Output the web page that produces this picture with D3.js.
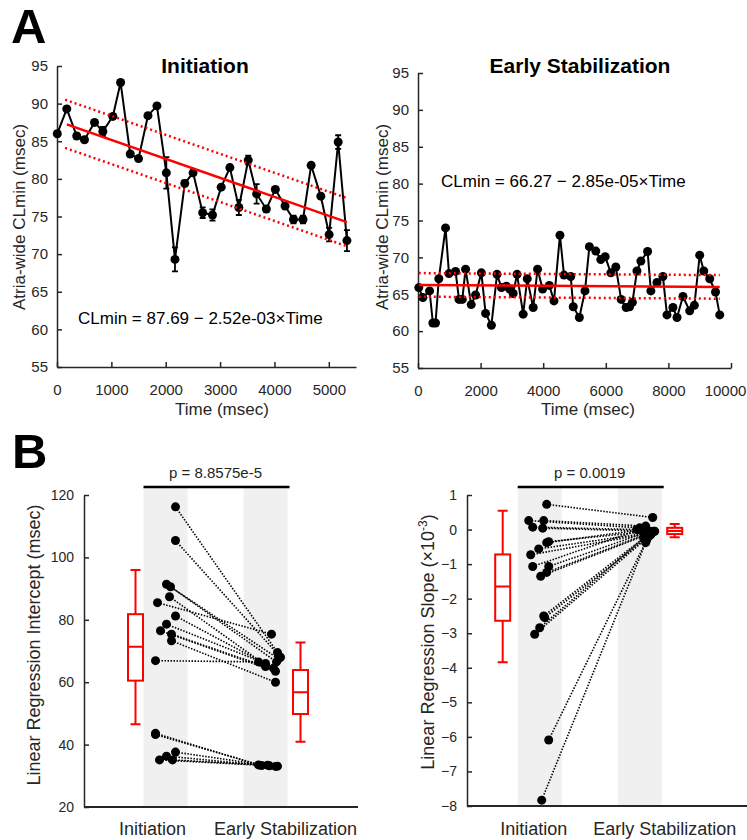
<!DOCTYPE html>
<html>
<head>
<meta charset="utf-8">
<script src="https://cdn.jsdelivr.net/npm/d3@7"></script>
<style>
body { margin: 0; background: #fff; }
text { font-family: "Liberation Sans", Arial, sans-serif; fill: #262626; }
</style>
</head>
<body>
<div id="chart"></div>
<script>
// panel A, initiation
var timeInit = [5, 180, 363, 505, 690, 843, 1027, 1170, 1347, 1500, 1673, 1838, 2011, 2170, 2350, 2503, 2680,
  2860, 3020, 3180, 3345, 3518, 3672, 3850, 4016, 4195, 4350, 4525, 4675, 4853, 5006, 5172, 5333];
var clInit = [86.0, 89.3, 85.7, 85.2, 87.5, 86.3, 88.3, 92.8, 83.3, 82.7, 88.4, 89.7, 80.8, 69.3, 79.4, 80.8, 75.5,
  75.2, 78.9, 81.5, 76.2, 82.5, 78.0, 76.0, 78.6, 76.4, 74.6, 74.6, 81.8, 77.7, 72.6, 84.9, 71.8];
var errInit = [0.3, 0.3, 0.3, 0.3, 0.3, 0.6, 0.3, 0.3, 0.3, 0.3, 0.3, 0.3, 2.1, 1.6, 0.4, 0.3, 0.7,
  0.75, 0.3, 0.3, 1.0, 0.6, 1.3, 0.4, 0.3, 0.4, 0.5, 0.5, 0.3, 0.3, 0.9, 0.9, 1.4];
var fitInit = [87.69, -2.52e-3];
var fitRangeInit = [180, 5333];
var bandRangeInit = [150, 5333];
var bandInit = 3.2;

// panel A, early stabilization
var timeStab = [25, 155, 370, 475, 560, 665, 880, 990, 1200, 1310, 1415, 1520, 1700, 1840, 2025, 2160, 2345,
  2525, 2665, 2825, 2930, 3040, 3165, 3360, 3490, 3680, 3820, 3980, 4195, 4345, 4535, 4665, 4880, 4960,
  5155, 5335, 5475, 5680, 5840, 5980, 6160, 6320, 6490, 6650, 6760, 6850, 6995, 7120, 7335, 7440, 7635,
  7825, 7955, 8145, 8275, 8465, 8680, 8830, 9000, 9130, 9320, 9505, 9640];
var clStab = [65.9, 64.55, 65.45, 61.1, 61.1, 67.1, 74.0, 67.8, 68.1, 64.3, 64.3, 68.4, 63.6, 64.9, 67.9, 62.4, 60.8,
  67.7, 65.9, 66.1, 65.7, 65.1, 67.7, 62.3, 67.1, 63.2, 68.4, 65.7, 66.2, 64.1, 73.0, 67.6, 67.4, 63.3,
  61.85, 65.45, 71.45, 70.85, 69.7, 70.1, 67.9, 68.7, 64.3, 63.2, 63.3, 63.9, 68.15, 69.5, 70.8, 65.45, 66.6,
  67.4, 62.2, 63.2, 61.85, 64.7, 62.75, 63.5, 70.3, 68.15, 67.1, 65.3, 62.2];
var fitStab = [66.27, -2.85e-5];
var fitRangeStab = [25, 9640];
var bandStab = 1.6;

var ticksTimeInit = [0, 1000, 2000, 3000, 4000, 5000];
var ticksTimeStab = [0, 2000, 4000, 6000, 8000, 10000];
var ticksCL = [55, 60, 65, 70, 75, 80, 85, 90, 95];

// panel B, intercepts (initiation -> early stabilization)
var icptInit = [116.2, 105.4, 91.4, 90.6, 87.4, 85.5, 81.2, 78.6, 76.5, 75.4, 73.3, 66.9, 43.6, 43.2, 37.6, 36.3, 35.1, 35.1];
var icptStab = [69.5, 68.0, 67.5, 66.5, 65.5, 75.4, 64.5, 66.0, 63.5, 65.0, 60.0, 66.5, 33.5, 33.3, 33.2, 33.0, 33.1, 33.4];
var icptInitX = [1.10, 1.10, 1.01, 1.05, 1.04, 0.92, 1.10, 1.01, 0.95, 1.06, 1.06, 0.90, 0.90, 0.90, 1.10, 1.01, 0.94, 1.07];
var icptStabX = [2.12, 2.15, 2.13, 2.11, 2.00, 2.06, 2.08, 2.00, 2.10, 2.00, 2.10, 1.93, 1.93, 1.96, 2.04, 2.10, 2.12, 2.02];
var icptBoxInit = [46.5, 60.5, 71.4, 81.8, 96.0];
var icptBoxStab = [40.9, 49.8, 56.8, 63.9, 72.7];
var icptBoxX = [0.70, 2.35];
var ticksIcpt = [20, 40, 60, 80, 100, 120];

// panel B, slopes (x 10^-3)
var slopeInit = [0.73, 0.26, 0.07, 0.26, 0.04, -0.38, -0.35, -0.56, -0.73, -1.07, -1.07, -1.24, -1.35, -2.50, -2.55, -2.84, -3.03, -6.09, -7.83];
var slopeStab = [0.35, 0.05, 0.0, 0.1, -0.05, 0.0, -0.05, -0.1, -0.1, 0.0, -0.1, -0.05, -0.15, -0.2, -0.15, -0.25, -0.2, -0.3, -0.38];
var slopeInitX = [1.07, 0.89, 0.93, 1.04, 1.03, 1.07, 1.09, 0.99, 0.91, 0.93, 1.09, 1.07, 1.01, 1.04, 1.05, 1.00, 0.95, 1.09, 1.02];
var slopeStabX = [2.13, 2.00, 1.97, 2.06, 2.15, 2.03, 2.10, 2.08, 2.12, 2.00, 2.05, 2.14, 2.07, 2.06, 2.11, 2.04, 2.09, 2.07, 2.06];
var slopeBoxInit = [-3.84, -2.64, -1.65, -0.72, 0.545];
var slopeBoxStab = [-0.22, -0.13, -0.04, 0.05, 0.16];
var slopeBoxX = [0.63, 2.35];
var ticksSlope = [-8, -7, -6, -5, -4, -3, -2, -1, 0, 1];

var categories = ["Initiation", "Early Stabilization"];
var pValues = ["p = 8.8575e-5", "p = 0.0019"];

var svg = d3.select("#chart").append("svg")
  .attr("width", 747)
  .attr("height", 840);

var axisColor = "#262626";

function styleAxis(g, size) {
  g.select(".domain").attr("stroke", axisColor).attr("stroke-width", 1.5);
  g.selectAll(".tick line").attr("stroke", axisColor).attr("stroke-width", 1.5);
  g.selectAll(".tick text").attr("font-size", size).style("fill", axisColor)
    .attr("font-family", "Liberation Sans, Arial, sans-serif");
}

function yLabel(x, y, str, size) {
  return svg.append("text")
    .attr("transform", "translate(" + x + "," + y + ") rotate(-90)")
    .attr("text-anchor", "middle")
    .attr("font-size", size)
    .text(str);
}

// ---------- panel A ----------
function timePanel(opt) {
  var x = opt.x, y = opt.y;
  var gy = svg.append("g").attr("transform", "translate(" + x.range()[0] + ",0)")
    .call(d3.axisLeft(y).tickValues(ticksCL).tickSizeInner(-5).tickSizeOuter(0).tickPadding(9));
  styleAxis(gy, 15);
  var gx = svg.append("g").attr("transform", "translate(0," + y.range()[0] + ")")
    .call(d3.axisBottom(x).tickValues(opt.xticks).tickFormat(d3.format("d")).tickSizeInner(-5).tickSizeOuter(0).tickPadding(17));
  styleAxis(gx, 15);
  // keep the last tick label inside the page
  gx.selectAll(".tick text").filter(function(d) { return d === 10000; }).attr("dx", -6);

  var pts = opt.t.map(function(t, i) { return { t: t, v: opt.v[i], e: opt.e ? opt.e[i] : 0 }; });

  // error bars
  svg.append("g").selectAll("path").data(pts.filter(function(d) { return d.e > 0; }))
    .join("path")
    .attr("d", function(d) {
      var cx = x(d.t), y0 = y(d.v - d.e), y1 = y(d.v + d.e);
      return "M" + cx + "," + y0 + "V" + y1 + "M" + (cx - 3) + "," + y0 + "H" + (cx + 3) + "M" + (cx - 3) + "," + y1 + "H" + (cx + 3);
    })
    .attr("stroke", "#000").attr("stroke-width", 1.8).attr("fill", "none");

  svg.append("path").datum(pts)
    .attr("d", d3.line().x(function(d) { return x(d.t); }).y(function(d) { return y(d.v); }))
    .attr("fill", "none").attr("stroke", "#000").attr("stroke-width", 2);

  svg.append("g").selectAll("circle").data(pts).join("circle")
    .attr("cx", function(d) { return x(d.t); })
    .attr("cy", function(d) { return y(d.v); })
    .attr("r", 4.5).attr("fill", "#000");

  // regression line and dotted bands
  var f = function(t) { return opt.fit[0] + opt.fit[1] * t; };
  var line = d3.line().x(function(d) { return x(d[0]); }).y(function(d) { return y(d[1]); });
  [opt.band, -opt.band].forEach(function(off) {
    svg.append("path")
      .datum(opt.bandRange.map(function(t) { return [t, f(t) + off]; }))
      .attr("d", line).attr("fill", "none").attr("stroke", "#ff0000")
      .attr("stroke-width", 2.5).attr("stroke-dasharray", "2,3");
  });
  svg.append("path")
    .datum(opt.fitRange.map(function(t) { return [t, f(t)]; }))
    .attr("d", line).attr("fill", "none").attr("stroke", "#ff0000").attr("stroke-width", 2.5);

  svg.append("text").attr("x", opt.titleX).attr("y", 73).attr("text-anchor", "middle")
    .attr("font-size", 21).attr("font-weight", "bold").style("fill", "#000").text(opt.title);
  svg.append("text").attr("x", opt.eqX).attr("y", opt.eqY).attr("font-size", 17).style("fill", "#000").text(opt.eq);
  svg.append("text").attr("x", opt.xlabX).attr("y", 415).attr("text-anchor", "middle")
    .attr("font-size", 17).text("Time (msec)");
  yLabel(opt.ylabX, 217, "Atria-wide CLmin (msec)", 17);
}

timePanel({
  x: d3.scaleLinear().domain([0, 5500]).range([57, 356]),
  y: d3.scaleLinear().domain([55, 95]).range([367, 66]),
  xticks: ticksTimeInit, t: timeInit, v: clInit, e: errInit,
  fit: fitInit, fitRange: fitRangeInit, bandRange: bandRangeInit, band: bandInit,
  title: "Initiation", titleX: 205, eq: "CLmin = 87.69 \u2212 2.52e-03\u00d7Time", eqX: 78, eqY: 324,
  xlabX: 222, ylabX: 25
});

timePanel({
  x: d3.scaleLinear().domain([0, 10000]).range([418, 731]),
  y: d3.scaleLinear().domain([55, 95]).range([368, 73]),
  xticks: ticksTimeStab, t: timeStab, v: clStab, e: null,
  fit: fitStab, fitRange: fitRangeStab, bandRange: fitRangeStab, band: bandStab,
  title: "Early Stabilization", titleX: 580, eq: "CLmin = 66.27 \u2212 2.85e-05\u00d7Time", eqX: 441, eqY: 187,
  xlabX: 588, ylabX: 388
});

// ---------- panel B ----------
function pairedPanel(opt) {
  var x = opt.x, y = opt.y;
  var top = 487, bottom = y.range()[0];

  // grey category bands
  svg.append("g").selectAll("rect").data([1, 2]).join("rect")
    .attr("x", function(d) { return x(d - 0.22); })
    .attr("width", x(0.44) - x(0))
    .attr("y", top).attr("height", bottom - top)
    .attr("fill", "#f0f0f0");

  var gy = svg.append("g").attr("transform", "translate(" + opt.axisX + ",0)")
    .call(d3.axisLeft(y).tickValues(opt.yticks).tickSizeInner(-5).tickSizeOuter(0).tickPadding(10));
  styleAxis(gy, 14);
  svg.append("line").attr("x1", opt.axisX).attr("x2", opt.axisEnd)
    .attr("y1", bottom).attr("y2", bottom).attr("stroke", axisColor).attr("stroke-width", 2);

  // bracket and p value
  svg.append("line").attr("x1", x(0.78)).attr("x2", x(2.24)).attr("y1", top).attr("y2", top)
    .attr("stroke", "#000").attr("stroke-width", 2.5);
  svg.append("text").attr("x", x(1.5)).attr("y", 478).attr("text-anchor", "middle")
    .attr("font-size", 15).text(opt.p);

  // paired lines
  var pairs = opt.a.map(function(v, i) { return { x0: opt.ax[i], y0: v, x1: opt.bx[i], y1: opt.b[i] }; });
  svg.append("g").selectAll("line").data(pairs).join("line")
    .attr("x1", function(d) { return x(d.x0); }).attr("y1", function(d) { return y(d.y0); })
    .attr("x2", function(d) { return x(d.x1); }).attr("y2", function(d) { return y(d.y1); })
    .attr("stroke", "#000").attr("stroke-width", 1.6).attr("stroke-dasharray", "1.5,1.5");

  var dots = pairs.map(function(d) { return [d.x0, d.y0]; }).concat(pairs.map(function(d) { return [d.x1, d.y1]; }));
  svg.append("g").selectAll("circle").data(dots).join("circle")
    .attr("cx", function(d) { return x(d[0]); }).attr("cy", function(d) { return y(d[1]); })
    .attr("r", 4.5).attr("fill", "#000");

  // box plots
  [opt.boxA, opt.boxB].forEach(function(bx, i) {
    var cx = x(opt.boxX[i]), w = 7.5, c = 5;
    var g = svg.append("g").attr("stroke", "#ff0000").attr("stroke-width", 2).attr("fill", "none");
    g.append("path").attr("d",
      "M" + cx + "," + y(bx[0]) + "V" + y(bx[1]) + "M" + cx + "," + y(bx[3]) + "V" + y(bx[4]) +
      "M" + (cx - c) + "," + y(bx[0]) + "H" + (cx + c) + "M" + (cx - c) + "," + y(bx[4]) + "H" + (cx + c) +
      "M" + (cx - w) + "," + y(bx[2]) + "H" + (cx + w));
    g.append("rect").attr("x", cx - w).attr("width", 2 * w)
      .attr("y", y(bx[3])).attr("height", y(bx[1]) - y(bx[3]));
  });

  svg.append("text").attr("x", x(1) + opt.catOff[0]).attr("y", 835).attr("text-anchor", "middle")
    .attr("font-size", 18).text(categories[0]);
  svg.append("text").attr("x", x(2) + opt.catOff[1]).attr("y", 835).attr("text-anchor", "middle")
    .attr("font-size", 18).text(categories[1]);
}

pairedPanel({
  x: d3.scaleLinear().domain([0, 3]).range([65.5, 365.5]),
  y: d3.scaleLinear().domain([20, 120]).range([807, 495]),
  axisX: 84, axisEnd: 358, yticks: ticksIcpt,
  a: icptInit, b: icptStab, ax: icptInitX, bx: icptStabX,
  boxA: icptBoxInit, boxB: icptBoxStab, boxX: icptBoxX,
  p: pValues[0], catOff: [-13, 20]
});
yLabel(40, 645, "Linear Regression Intercept (msec)", 18);

pairedPanel({
  x: d3.scaleLinear().domain([0, 3]).range([439.7, 739.7]),
  y: d3.scaleLinear().domain([-8, 1]).range([806, 495]),
  axisX: 467, axisEnd: 747, yticks: ticksSlope,
  a: slopeInit, b: slopeStab, ax: slopeInitX, bx: slopeStabX,
  boxA: slopeBoxInit, boxB: slopeBoxStab, boxX: slopeBoxX,
  p: pValues[1], catOff: [-6, 25]
});
var sl = yLabel(434, 642, "Linear Regression Slope (\u00d710", 18);
sl.append("tspan").attr("dy", -7).attr("font-size", 12).text("-3");
sl.append("tspan").attr("dy", 7).text(")");

// panel letters
svg.append("text").attr("x", 11).attr("y", 43).attr("font-size", 49).attr("font-weight", "bold")
  .style("fill", "#000").text("A");
svg.append("text").attr("x", 12).attr("y", 468).attr("font-size", 49).attr("font-weight", "bold")
  .style("fill", "#000").text("B");
</script>
</body>
</html>
